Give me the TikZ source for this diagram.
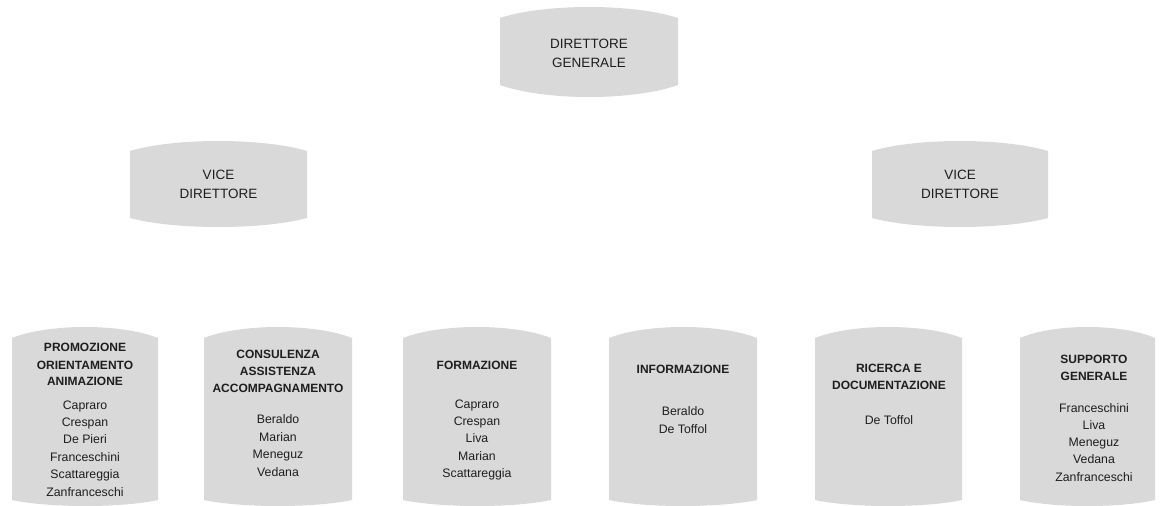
\documentclass[tikz,border=0pt]{standalone}
\usepackage{fontspec}
\setmainfont{Liberation Sans}
\definecolor{boxgray}{RGB}{217,217,217}
\definecolor{textcol}{RGB}{30,30,30}
\tikzset{
  boxfill/.style={fill=boxgray},
  bigtext/.style={anchor=base, inner sep=0pt, text=textcol, font=\fontsize{13.5}{16}\selectfont},
  titletext/.style={anchor=base, inner sep=0pt, text=textcol, font=\fontsize{12}{14}\selectfont\bfseries},
  nametext/.style={anchor=base, inner sep=0pt, text=textcol, font=\fontsize{12.3}{14}\selectfont},
}
% #1 left, #2 right, #3 top corner y, #4 top bulge, #5 bottom corner y, #6 bottom bulge
\newcommand\barrel[6]{%
  \fill[boxfill] (#1,#3)
    .. controls ({#1+(#2-#1)/4},{#3-4*#4/3}) and ({#2-(#2-#1)/4},{#3-4*#4/3}) .. (#2,#3)
    -- (#2,#5)
    .. controls ({#2-(#2-#1)/4},{#5+4*#6/3}) and ({#1+(#2-#1)/4},{#5+4*#6/3}) .. (#1,#5)
    -- cycle;}
% #1 name prefix, #2 x, #3 style, #4 list y/text
\newcommand\textlines[4]{%
  \foreach \yy/\lbl [count=\i] in {#4} {\node[#3] (#1\i) at (#2,\yy) {\lbl};}}

\begin{document}
\begin{tikzpicture}[x=1pt,y=-1pt]
\useasboundingbox (0,0) rectangle (1160,506);

% top level
\barrel{500}{678}{18}{11}{85}{12}
\textlines{dg}{589}{bigtext}{48/DIRETTORE,67/GENERALE}

% vice directors
\barrel{130}{307}{151}{10}{218}{9}
\textlines{vdl}{218.5}{bigtext}{179/VICE,198/DIRETTORE}
\barrel{872}{1048}{151}{10}{218}{9}
\textlines{vdr}{960}{bigtext}{179/VICE,198/DIRETTORE}

% bottom boxes
\barrel{12}{158}{338}{11}{500}{6}
\textlines{b1t}{85}{titletext}{351.7/PROMOZIONE,369/ORIENTAMENTO,385.7/ANIMAZIONE}
\textlines{b1n}{85}{nametext}{409.3/Capraro,426.5/Crespan,443.5/De Pieri,461/Franceschini,478.3/Scattareggia,496/Zanfranceschi}

\barrel{204}{352}{338}{11}{500}{6}
\textlines{b2t}{278}{titletext}{358/CONSULENZA,375/ASSISTENZA,392/ACCOMPAGNAMENTO}
\textlines{b2n}{278}{nametext}{423.5/Beraldo,441/Marian,458.5/Meneguz,476/Vedana}

\barrel{403}{551}{338}{11}{500}{6}
\textlines{b3t}{477}{titletext}{369/FORMAZIONE}
\textlines{b3n}{477}{nametext}{408/Capraro,425.3/Crespan,442.7/Liva,460/Marian,477.5/Scattareggia}

\barrel{609}{757}{338}{11}{500}{6}
\textlines{b4t}{683}{titletext}{373/INFORMAZIONE}
\textlines{b4n}{683}{nametext}{415.5/Beraldo,433/De Toffol}

\barrel{815}{962}{338}{11}{500}{6}
\textlines{b5t}{889}{titletext}{372/RICERCA E,389/DOCUMENTAZIONE}
\textlines{b5n}{889}{nametext}{424/De Toffol}

\barrel{1020}{1155}{338}{11}{500}{6}
\textlines{b6t}{1094}{titletext}{363/SUPPORTO,380/GENERALE}
\textlines{b6n}{1094}{nametext}{412/Franceschini,429/Liva,446/Meneguz,463/Vedana,481/Zanfranceschi}
\end{tikzpicture}
\end{document}
